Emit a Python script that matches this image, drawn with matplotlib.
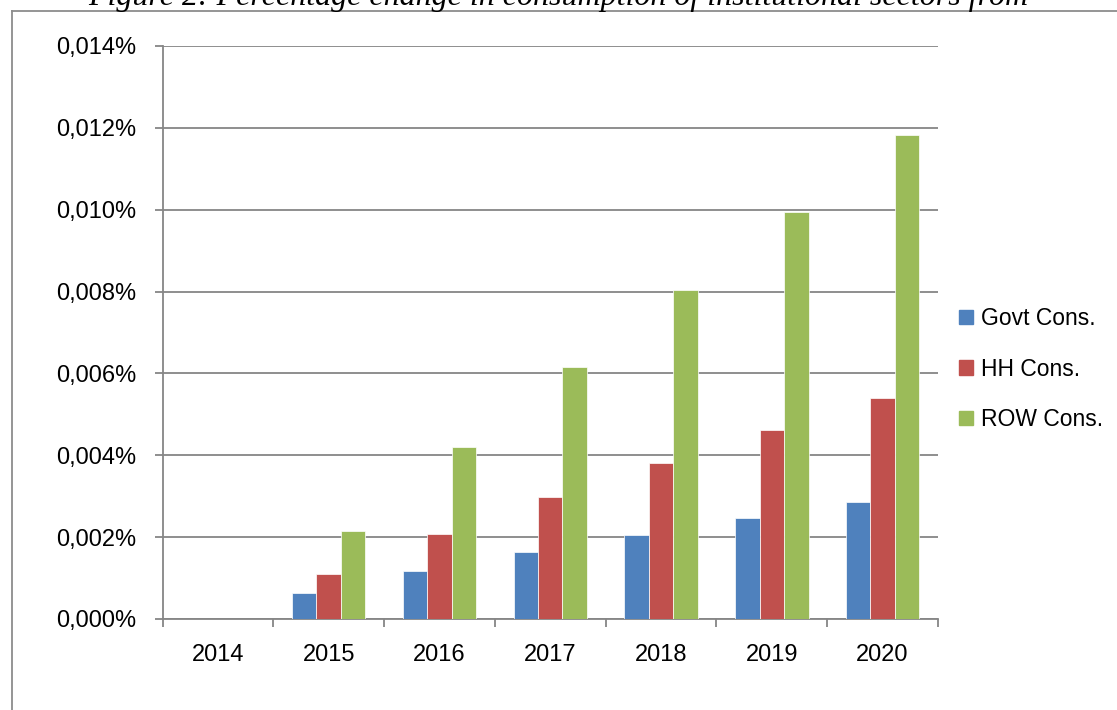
import matplotlib
matplotlib.use("Agg")
import matplotlib.pyplot as plt
import numpy as np
from matplotlib.patches import Rectangle
from matplotlib.lines import Line2D

years = ["2014", "2015", "2016", "2017", "2018", "2019", "2020"]
govt_cons = [0.0, 0.00064, 0.00117, 0.00164, 0.00205, 0.00246, 0.00287]
hh_cons = [0.0, 0.00109, 0.00208, 0.00298, 0.00381, 0.00462, 0.00541]
row_cons = [0.0, 0.00215, 0.00420, 0.00615, 0.00805, 0.00994, 0.01182]
series_names = ["Govt Cons.", "HH Cons.", "ROW Cons."]
y_ticks = [0.000, 0.002, 0.004, 0.006, 0.008, 0.010, 0.012, 0.014]
title_text = "Figure 2: Percentage change in consumption of institutional sectors from"

colors = ["#4F81BD", "#C0504D", "#9BBB59"]
grid_col = "#868686"
W, H = 1117, 710
fig = plt.figure(figsize=(W / 100, H / 100), dpi=100)
plt.rcParams['font.family'] = ['Liberation Sans', 'DejaVu Sans']

ax = fig.add_axes([162.5 / W, (H - 619) / H, (938 - 162.5) / W, (619 - 46) / H])
x = np.arange(len(years))
bw = 0.221
for i, (vals, name) in enumerate(zip([govt_cons, hh_cons, row_cons], series_names)):
    ax.bar(x + (i - 1) * bw, vals, width=bw, color=colors[i], edgecolor="white",
           linewidth=0.5, label=name, zorder=3)

ax.set_xlim(-0.5, len(years) - 0.5)
ax.set_ylim(0, 0.014)
ax.set_yticks(y_ticks)
ax.set_yticklabels([f"{v:.3f}%".replace(".", ",") for v in y_ticks])
ax.set_xticks(x)
ax.set_xticklabels(years)
ax.set_xticks(np.arange(-0.5, len(years), 1.0), minor=True)
ax.tick_params(axis="x", which="major", length=0, pad=18, labelsize=17)
ax.tick_params(axis="x", which="minor", length=6, width=1.3, color=grid_col, direction="out")
ax.tick_params(axis="y", length=6, width=1.3, color=grid_col, pad=13, labelsize=17)
ax.yaxis.grid(True, color=grid_col, linewidth=1.3, zorder=0)
ax.set_axisbelow(True)
for s in ["top", "right"]:
    ax.spines[s].set_visible(False)
for s in ["left", "bottom"]:
    ax.spines[s].set_color(grid_col)
    ax.spines[s].set_linewidth(1.3)

handles = [Rectangle((0, 0), 1, 1, color=c) for c in colors]
fig.legend(handles, series_names, loc="upper left",
           bbox_to_anchor=(959 / W, 1 - 307 / H), frameon=False,
           fontsize=16.5, handlelength=0.62, handleheight=0.62,
           handletextpad=0.35, labelspacing=1.2, borderpad=0, borderaxespad=0)

# outer frame (partially visible)
fig.add_artist(Line2D([11.5 / W, 11.5 / W], [0, 1 - 11 / H], color="#8c8c8c", linewidth=1.3,
                      transform=fig.transFigure))
fig.add_artist(Line2D([11.5 / W, 1.0], [1 - 11 / H, 1 - 11 / H], color="#8c8c8c", linewidth=1.3,
                      transform=fig.transFigure))

# title, cut off at top
t = fig.text(558 / W, 1 - 5 / H, title_text, ha="center", va="baseline",
             family=["Liberation Serif"], style="italic", fontsize=22)
fig.canvas.draw()
bb = t.get_window_extent()
t.set_fontsize(22 * 939 / bb.width)

fig.savefig("out.png", dpi=100)
